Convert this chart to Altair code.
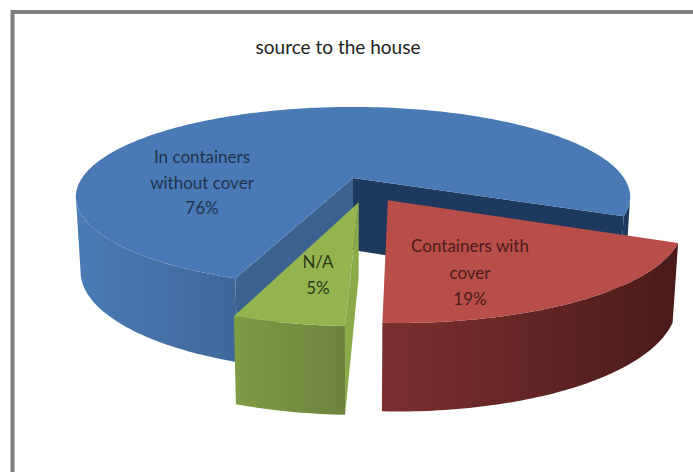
import math
import altair as alt
import pandas as pd

# Shares of each water storage type, drawn clockwise from the right-hand side
categories = ["Containers with cover", "N/A", "In containers without cover"]
shares = [19, 5, 76]
label_lines = [["Containers with", "cover"], ["N/A"], ["In containers", "without cover"]]
title_text = "source to the house"

# Perspective model of the tilted disc (all in screen pixels)
CX, CY = 353, 178
A, B, C = 271, 86, 0.21
DEPTH, DEPTH_C = 72, 0.15
X_SHRINK = 0.983
START_DEG = 24
# Rim angles where the disc reaches its widest on screen
WIDEST_RIGHT, WIDEST_LEFT = 12, 168
# Explosion offset of each slice, in disc radii
EXPLODE = {"Containers with cover": (0.122, 0.245),
           "N/A": (0.02, 0.265),
           "In containers without cover": (0.0, 0.0)}

X_SCALE = alt.Scale(domain=[0, 693], range=[0, 693])
Y_SCALE = alt.Scale(domain=[0, 472], range=[0, 472])


def project(ux, uy, lower=False):
    w = 1 - C * uy
    px = A * ux / w
    py = B * uy / w
    if lower:
        return CX + px * X_SHRINK, CY + py + DEPTH / (1 - DEPTH_C * uy)
    return CX + px, CY + py


def rim(deg, off):
    r = math.radians(deg)
    return math.cos(r) + off[0], math.sin(r) + off[1]


def arc(a0, a1, off, lower=False):
    n = max(2, int(abs(a1 - a0)) + 1)
    return [project(*rim(a0 + (a1 - a0) * i / (n - 1), off), lower) for i in range(n)]


def poly(points, fill):
    df = pd.DataFrame({"x": [p[0] for p in points], "y": [p[1] for p in points],
                       "i": list(range(len(points)))})
    return alt.Chart(df).mark_line(fill=fill, strokeWidth=0, strokeOpacity=0).encode(
        x=alt.X("x:Q", scale=X_SCALE, axis=None),
        y=alt.Y("y:Q", scale=Y_SCALE, axis=None),
        order=alt.Order("i:Q"),
    )


def hgrad(c0, c1):
    return alt.Gradient(gradient="linear", x1=0, x2=1, y1=0, y2=0,
                        stops=[alt.GradientStop(color=c0, offset=0),
                               alt.GradientStop(color=c1, offset=1)])


spans = {}
angle = START_DEG
for name, share in zip(categories, shares):
    spans[name] = (angle, angle + share * 3.6)
    angle += share * 3.6

layers = []

# Main body: the large blue slice, from the front cut round the back to the right cut
name = categories[2]
off = EXPLODE[name]
a0, a1 = spans[name]
apex_t = project(off[0], off[1])
apex_b = project(off[0], off[1], True)
layers.append(poly(arc(a0, WIDEST_LEFT, off) + arc(WIDEST_LEFT, a0, off, True), hgrad("#4a7cb5", "#3f6799")))
layers.append(poly(arc(360 + WIDEST_RIGHT, a1, off) + arc(a1, 360 + WIDEST_RIGHT, off, True), "#1d3a5e"))
layers.append(poly([apex_t, project(*rim(a1, off)), project(*rim(a1, off), True), apex_b], "#1d3a5e"))
layers.append(poly([apex_t, project(*rim(a0, off)), project(*rim(a0, off), True), apex_b], "#3b6291"))
layers.append(poly([apex_t] + arc(a0, a1, off), "#4a7ab6"))

# Red slice pulled out to the right
name = categories[0]
off = EXPLODE[name]
a0, a1 = spans[name]
layers.append(poly(arc(a0, a1, off) + arc(a1, a0, off, True), hgrad("#7b302f", "#4a1b19")))
layers.append(poly([project(*off)] + arc(a0, a1, off), "#b94d49"))

# Green slice pulled out towards the viewer
name = categories[1]
off = EXPLODE[name]
a0, a1 = spans[name]
layers.append(poly([project(*off), project(*off, True), project(*rim(a0, off), True), project(*rim(a0, off))],
                   "#8bab4a"))
layers.append(poly(arc(a0, a1, off) + arc(a1, a0, off, True), hgrad("#7f9c45", "#6c833d")))
layers.append(poly([project(*off)] + arc(a0, a1, off), "#93b44f"))


def text_rows(rows, color, size=17):
    df = pd.DataFrame(rows, columns=["x", "y", "t"])
    return alt.Chart(df).mark_text(font="Lato", fontSize=size, color=color, align="center",
                                   baseline="middle").encode(
        x=alt.X("x:Q", scale=X_SCALE, axis=None),
        y=alt.Y("y:Q", scale=Y_SCALE, axis=None),
        text="t:N",
    )


def label_rows(index, x, y0, step):
    lines = label_lines[index] + [f"{shares[index]}%"]
    return [(x, y0 + k * step, s) for k, s in enumerate(lines)]


layers.append(text_rows(label_rows(2, 202, 158, 25.5), "#1e3350"))
layers.append(text_rows(label_rows(0, 470, 247, 26.5), "#4b1b1a"))
layers.append(text_rows(label_rows(1, 318, 263, 26), "#2c3a1a"))
layers.append(text_rows([(338, 48, title_text)], "#222222", 19))

# Chart frame: gray border along the top and left, running off the page
frame = pd.DataFrame({"x": [12.5, 12.5, 693], "y": [472, 12, 12], "i": [0, 1, 2]})
layers.append(alt.Chart(frame).mark_line(color="#7f7f7f", strokeWidth=4).encode(
    x=alt.X("x:Q", scale=X_SCALE, axis=None),
    y=alt.Y("y:Q", scale=Y_SCALE, axis=None),
    order=alt.Order("i:Q"),
))

chart = alt.layer(*layers).properties(
    width=693, height=472, padding=0, autosize=alt.AutoSizeParams(type="none"),
    background="white",
).configure_view(stroke=None)

chart.save("out.html", embed_options={"renderer": "svg", "actions": False})
